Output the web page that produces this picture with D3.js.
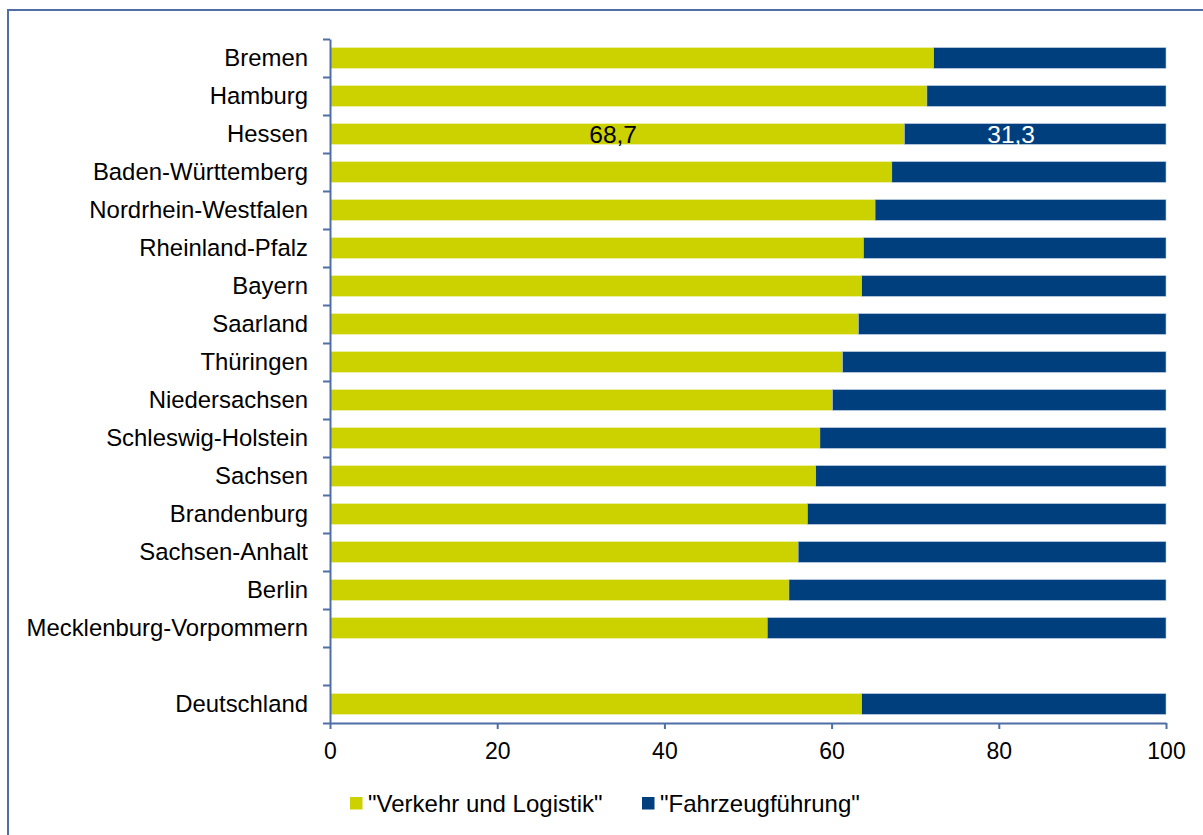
<!DOCTYPE html>
<html>
<head>
<meta charset="utf-8">
<script src="https://cdn.jsdelivr.net/npm/d3@7"></script>
<style>
  html, body { margin: 0; padding: 0; background: #fff; }
  svg { display: block; font-family: "Liberation Sans", Arial, sans-serif; }
</style>
</head>
<body>
<svg id="chart" width="1203" height="835"></svg>
<script>
// Anteil der Ausbildungsrichtungen je Bundesland (in %)
const categories = [
  "Bremen", "Hamburg", "Hessen", "Baden-Württemberg", "Nordrhein-Westfalen",
  "Rheinland-Pfalz", "Bayern", "Saarland", "Thüringen", "Niedersachsen",
  "Schleswig-Holstein", "Sachsen", "Brandenburg", "Sachsen-Anhalt", "Berlin",
  "Mecklenburg-Vorpommern", "", "Deutschland"
];
const verkehrLogistik = [
  72.2, 71.4, 68.7, 67.2, 65.2, 63.8, 63.6, 63.2, 61.3, 60.1,
  58.6, 58.1, 57.1, 56.0, 54.9, 52.3, null, 63.6
];
const fahrzeugfuehrung = [
  27.8, 28.6, 31.3, 32.8, 34.8, 36.2, 36.4, 36.8, 38.7, 39.9,
  41.4, 41.9, 42.9, 44.0, 45.1, 47.7, null, 36.4
];
const seriesNames = ['"Verkehr und Logistik"', '"Fahrzeugführung"'];
const xTicks = [0, 20, 40, 60, 80, 100];
const labelledCategory = "Hessen";

const colors = ["#CCD100", "#003F7E"];
const axisColor = "#4F6EA6";

const svg = d3.select("#chart");

// outer frame
svg.append("rect")
  .attr("x", 8).attr("y", 10)
  .attr("width", 1210).attr("height", 840)
  .attr("fill", "none")
  .attr("stroke", axisColor)
  .attr("stroke-width", 2);

const plot = { left: 330, right: 1166, top: 39, bottom: 723 };

const x = d3.scaleLinear().domain([0, 100]).range([plot.left, plot.right]);
const y = d3.scaleBand()
  .domain(d3.range(categories.length))
  .range([plot.top, plot.bottom])
  .paddingInner(0.455)
  .paddingOuter(0.2275);
// slot boundaries for the category axis ticks
const yEdges = d3.scaleLinear().domain([0, categories.length]).range([plot.top, plot.bottom]);

const rows = categories.map((c, i) => ({
  name: c, i,
  a: verkehrLogistik[i], b: fahrzeugfuehrung[i]
})).filter(d => d.a != null);

// stacked bars
const g = svg.append("g");
g.selectAll("rect.a").data(rows).join("rect")
  .attr("class", "a")
  .attr("x", x(0))
  .attr("y", d => y(d.i))
  .attr("width", d => x(d.a) - x(0))
  .attr("height", y.bandwidth())
  .attr("fill", colors[0]);
g.selectAll("rect.b").data(rows).join("rect")
  .attr("class", "b")
  .attr("x", d => x(d.a))
  .attr("y", d => y(d.i))
  .attr("width", d => x(d.a + d.b) - x(d.a))
  .attr("height", y.bandwidth())
  .attr("fill", colors[1])
  .attr("stroke", "#B8C8DE")
  .attr("stroke-width", 0.6);

// value labels for one state
const lab = rows.find(d => d.name === labelledCategory);
const fmt = v => d3.format(".1f")(v).replace(".", ",");
const cy = y(lab.i) + y.bandwidth() / 2;
svg.append("text")
  .attr("x", x(lab.a / 2) - 4).attr("y", cy + 9)
  .attr("text-anchor", "middle")
  .attr("font-size", "24.5px").attr("fill", "#000")
  .text(fmt(lab.a));
svg.append("text")
  .attr("x", x(lab.a + lab.b / 2) - 24).attr("y", cy + 9)
  .attr("text-anchor", "middle")
  .attr("font-size", "24.5px").attr("fill", "#fff")
  .text(fmt(lab.b));

// category axis: ticks between slots
const yAxis = svg.append("g")
  .attr("transform", `translate(${plot.left},0)`)
  .call(d3.axisLeft(yEdges).tickValues(d3.range(categories.length + 1)).tickSize(7).tickSizeOuter(0).tickFormat(""));
yAxis.select(".domain").attr("stroke", axisColor).attr("stroke-width", 2);
yAxis.selectAll(".tick line").attr("stroke", axisColor).attr("stroke-width", 2);

// category labels
svg.append("g").selectAll("text").data(categories).join("text")
  .attr("x", 308)
  .attr("y", (d, i) => y(i) + y.bandwidth() / 2)
  .attr("dy", "0.32em")
  .attr("text-anchor", "end")
  .attr("font-size", "23.9px")
  .attr("fill", "#000")
  .text(d => d);

// value axis
const xAxis = svg.append("g")
  .attr("transform", `translate(0,${plot.bottom})`)
  .call(d3.axisBottom(x).tickValues(xTicks).tickSize(6).tickSizeOuter(0).tickPadding(14).tickFormat(d3.format("d")));
xAxis.select(".domain").attr("stroke", axisColor).attr("stroke-width", 2);
xAxis.selectAll(".tick line").attr("stroke", axisColor).attr("stroke-width", 2);
xAxis.selectAll(".tick text")
  .attr("font-family", "Liberation Sans, Arial, sans-serif")
  .attr("font-size", "23px").attr("fill", "#000");

// legend
const legendX = [350, 642];
const legend = svg.append("g").selectAll("g").data(seriesNames).join("g")
  .attr("transform", (d, i) => `translate(${legendX[i]},797)`);
legend.append("rect")
  .attr("width", 12.5).attr("height", 12.5)
  .attr("fill", (d, i) => colors[i]);
legend.append("text")
  .attr("x", 18).attr("y", 14.5)
  .attr("font-size", "24px").attr("fill", "#000")
  .text(d => d);
</script>
</body>
</html>
